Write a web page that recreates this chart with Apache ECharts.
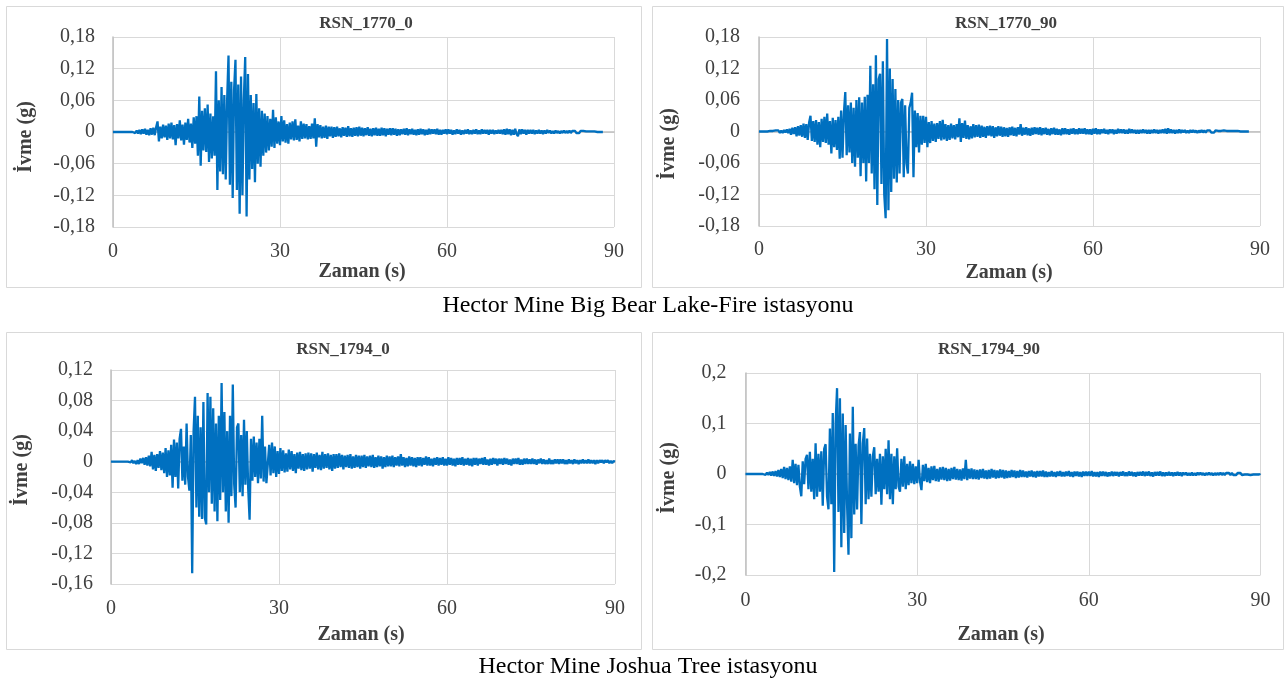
<!DOCTYPE html>
<html>
<head>
<meta charset="utf-8">
<script src="https://cdn.jsdelivr.net/npm/echarts@6/dist/echarts.min.js"></script>
<style>
  html, body { margin: 0; padding: 0; background: #fff; }
  #chart { width: 1287px; height: 686px; }
</style>
</head>
<body>
<div id="chart"></div>
<script>
// Acceleration records, sampled every DT seconds, values in 0.001 g
const DT = 0.25;

const titles = ['RSN_1770_0', 'RSN_1770_90', 'RSN_1794_0', 'RSN_1794_90'];
const captions = ['Hector Mine Big Bear Lake-Fire istasyonu', 'Hector Mine Joshua Tree istasyonu'];
const xTitle = 'Zaman (s)';
const yTitle = 'İvme (g)';

// Axis ticks
const xTicks = [0, 30, 60, 90];
const yTicks1770 = [-0.18, -0.12, -0.06, 0, 0.06, 0.12, 0.18];
const yTicks1794_0 = [-0.16, -0.12, -0.08, -0.04, 0, 0.04, 0.08, 0.12];
const yTicks1794_90 = [-0.2, -0.1, 0, 0.1, 0.2];

// Big Bear Lake-Fire, 0° component (0 – 88 s)
const rsn1770_0 = [
  0,0,0,0,0,0,0,0,0,0,0,0,0,0,0,2,-2,3,-3,4,
  -4,5,-3,6,-5,4,-6,7,-5,8,-6,9,20,-18,10,-12,14,-10,12,-15,
  16,-12,18,-14,13,-25,15,-12,22,-16,14,-24,18,-15,25,-20,16,-30,28,-22,
  30,-45,67,-64,40,-35,45,-38,52,-57,35,-50,30,-45,115,-110,60,-75,85,-80,
  70,-90,60,145,-100,95,-125,80,137,-110,90,-155,105,-120,60,142,-160,110,-90,70,
  -70,55,-95,72,-60,45,-66,40,-45,35,-39,30,-35,25,-28,42,-30,28,-22,20,
  -25,30,-18,22,-20,15,-22,18,-14,20,-16,24,-15,12,-18,20,-13,16,-12,15,
  -14,11,-13,16,-12,26,-28,15,-10,13,-12,10,-11,12,-13,10,-8,10,-11,9,
  -9,10,-8,7,-10,9,-7,8,-9,11,-8,7,-9,8,-7,9,-8,10,-7,8,
  -8,7,-6,9,-7,6,-8,7,-6,8,-7,6,-7,8,-6,7,-8,6,-5,7,
  -6,7,-5,6,-7,5,-6,5,-4,6,-5,7,-6,5,-4,6,-5,4,-6,5,
  -5,6,-4,5,-6,4,-5,6,-4,5,-3,5,-4,6,-5,4,-5,4,-3,5,
  -4,5,-3,4,-5,3,-4,5,-3,4,-5,3,-4,4,-3,5,-4,3,-4,4,
  -3,5,-4,3,-4,5,-3,4,-3,4,-5,4,-3,4,-4,3,-3,4,-3,4,
  -4,5,-5,6,-4,5,-6,4,-5,6,-4,-8,5,-4,5,-3,4,-5,4,-3,
  4,-3,4,-4,3,-3,4,-3,3,-4,3,-3,4,-2,3,-3,2,-3,3,-2,
  2,-3,2,-2,3,-2,2,-2,3,-2,2,-1,2,-2,1,-2,2,-1,2,-1,
  1,-1,1,-1,1,-1,1,-1,0,0,0,0,0
];

// Big Bear Lake-Fire, 90° component (0 – 88 s)
const rsn1770_90 = [
  0,0,0,0,0,0,0,0,1,-1,1,-2,2,-1,2,-3,2,-3,3,-2,
  4,-3,5,-6,7,-5,8,-9,10,-8,12,-10,15,-12,14,-16,17,30,-18,20,
  -20,22,-25,18,-30,24,-20,28,-22,34,-25,20,-42,26,-30,22,-35,28,-52,40,
  -50,35,75,-45,50,-40,55,-60,45,-67,60,-50,65,-85,55,-60,66,-95,70,-60,
  125,-80,90,-110,145,-140,100,110,-100,134,-120,-165,176,-150,120,-115,100,-90,81,-97,
  60,-80,55,62,-87,50,-60,-80,45,55,74,-87,40,-30,35,-40,30,-25,30,-22,
  28,-30,18,-22,20,-18,15,-20,16,-14,20,-17,22,-15,14,-18,12,-16,15,-13,
  12,-15,14,-11,25,-20,16,-12,21,-14,12,-15,10,-13,14,-11,12,-10,13,-12,
  11,-10,9,-12,10,-8,11,-9,10,-12,8,-9,10,-8,9,-10,8,-9,7,-10,
  8,-7,9,-8,7,-9,8,-6,14,-8,7,-6,8,-7,6,-8,7,-6,8,-5,
  7,-6,8,-7,6,-5,7,-6,5,-7,6,-5,7,-6,5,-6,4,-7,6,-5,
  6,-5,4,-6,5,-4,6,-5,4,-5,6,-4,5,-4,6,-5,4,-5,4,-6,
  5,-4,6,-5,4,-5,4,-3,5,-4,3,-5,4,-3,4,-5,3,-4,5,-3,
  4,-3,4,-4,3,-4,5,-3,4,-3,3,-4,3,-4,3,-3,4,-3,3,-4,
  3,-4,3,-3,4,-3,3,-4,3,-3,4,-3,5,-4,6,-3,4,-3,3,-4,
  3,-3,4,-3,3,-2,3,-3,2,-3,3,-2,3,-2,2,-3,2,-2,3,-2,
  2,-2,2,-1,2,-2,1,-2,2,-1,1,-2,1,-1,2,-1,1,-1,1,-1,
  1,-1,1,-1,1,-1,0,1,0,0,0,0,0
];

// Joshua Tree, 0° component (0 – 90 s)
const rsn1794_0 = [
  0,0,0,0,0,0,0,0,0,0,0,0,0,1,-1,2,-2,1,-3,2,
  -3,4,-2,5,-4,6,-5,8,-6,13,-10,9,-12,10,-8,14,-11,12,-15,18,
  -20,15,-18,22,-34,29,-20,25,-35,30,43,-25,20,-30,50,-20,-38,35,-146,40,
  85,-60,60,-72,45,-75,78,-73,-82,90,-40,85,-55,70,-65,50,-78,60,-50,103,
  -40,65,-65,40,-80,60,-45,101,-30,-60,45,50,-40,35,-45,55,-30,40,-35,-76,
  30,-25,33,-20,25,-28,30,-22,60,-26,20,-28,-30,22,-18,25,-15,20,-20,14,
  -16,18,-12,15,-14,11,-13,16,-10,14,-12,10,-15,12,-9,13,-11,10,-12,11,
  -10,12,-9,11,-13,10,-8,12,-10,9,-11,13,-9,10,-8,11,-10,9,-12,10,
  -9,10,-8,11,-7,9,-10,8,-7,9,-8,10,-9,7,-8,9,-7,8,-9,8,
  -7,9,-8,7,-6,8,-7,9,-8,6,-7,8,-6,7,-9,6,-7,8,-6,7,
  -6,8,-7,6,-5,7,-6,10,-5,6,-7,5,-6,7,-5,6,-6,5,-7,6,
  -5,6,-6,5,-4,7,-5,6,-5,4,-6,5,-4,6,-5,5,-4,6,-5,4,
  -5,6,-4,5,-5,4,-6,5,-4,5,-4,6,-5,4,-4,5,-5,4,-6,5,
  -4,5,-5,4,-3,5,-4,6,-4,3,-5,4,-4,5,-3,4,-5,4,-3,4,
  -4,5,-3,4,-4,3,-5,4,-3,4,-3,5,-4,3,-4,4,-3,4,-3,3,
  -3,4,-3,3,-4,3,-2,4,-3,3,-3,2,-3,4,-3,2,-3,3,-2,3,
  -3,3,-2,3,-3,2,-3,3,-2,2,-3,3,-2,2,-3,2,-2,3,-2,2,
  -2,3,-2,2,-2,2,-3,2,-2,2,-1,2,-2,2,-1,2,-2,1,-2,1,
  0
];

// Joshua Tree, 90° component (0 – 90 s)
const rsn1794_90 = [
  0,0,0,0,0,0,0,0,0,0,0,0,0,2,-2,3,-2,4,-3,5,
  -4,6,-5,8,-6,10,-8,14,-10,12,-12,15,-15,28,-18,20,-22,18,-25,-44,
  25,-20,30,38,-30,44,-35,30,-50,61,-45,40,-35,45,-63,50,59,-45,-70,90,
  -60,121,-194,100,170,-75,150,-145,120,-117,97,-60,-160,80,-127,133,-80,60,-70,55,
  83,-99,60,91,-60,70,-50,40,-45,35,53,-40,30,-35,40,-61,35,-30,50,-40,
  67,-50,40,-60,35,-30,51,-25,-35,30,-25,35,-30,20,-22,25,-18,20,-20,15,
  -18,28,-15,-32,18,-14,20,-16,12,-18,15,-12,16,-14,10,-15,13,-11,14,-12,
  12,-14,10,-13,12,-10,14,-11,10,-12,9,-13,11,-10,28,-12,10,-9,11,-10,
  9,-10,8,-11,9,-8,10,-9,7,-10,8,-9,10,-7,8,-9,7,-8,9,-7,
  8,-9,7,-8,6,-7,8,-6,7,-8,6,-7,8,-6,7,-6,5,-7,6,-5,
  7,-6,5,-7,6,-5,6,-5,7,-6,5,-6,4,-5,6,-5,4,-6,5,-4,
  6,-5,4,-5,5,-4,6,-5,4,-6,5,-4,5,-5,4,-6,5,-4,5,-4,
  5,-4,6,-5,4,-5,4,-6,5,-4,5,-4,4,-5,3,-4,5,-4,4,-3,
  4,-5,4,-3,5,-4,3,-4,5,-3,4,-4,3,-5,4,-3,4,-3,5,-4,
  4,-3,5,-4,3,-5,4,-3,4,-3,5,-4,3,-4,3,-3,4,-3,3,-4,
  3,-3,4,-3,3,-4,3,-2,3,-3,2,-3,3,-3,2,-3,3,-2,3,-2,
  2,-3,2,-2,3,-2,2,-3,2,-2,2,-2,3,-2,2,-2,2,-1,2,-2,
  2,-2,1,-2,2,-1,2,-2,1,-1,2,-1,1,-2,1,-1,1,-1,1,-1,
  0
];

const records = [rsn1770_0, rsn1770_90, rsn1794_0, rsn1794_90];
const yTickSets = [yTicks1770, yTicks1770, yTicks1794_0, yTicks1794_90];
const yDecimals = [2, 2, 2, 1];

// Panel layout (pixels)
const panels = [
  { grid: { left: 113, top: 37, width: 501, height: 190 }, yMargin: 18, xMargin: 15,
    box: [6, 6, 635, 281], title: [366, 24], xName: [362, 272], yName: [26, 137] },
  { grid: { left: 759, top: 37, width: 501, height: 189 }, yMargin: 19, xMargin: 14,
    box: [652, 6, 631, 281], title: [1006, 24], xName: [1009, 273], yName: [669, 144] },
  { grid: { left: 111, top: 370, width: 504, height: 214 }, yMargin: 18, xMargin: 15,
    box: [6, 332, 635, 317], title: [343, 350], xName: [361, 635], yName: [22, 470] },
  { grid: { left: 745.5, top: 373, width: 515, height: 202 }, yMargin: 19, xMargin: 16,
    box: [652, 332, 631, 317], title: [989, 350], xName: [1001, 635], yName: [669, 478] }
];

const FONT = '"Liberation Serif", "Times New Roman", serif';
const TEXT = '#404040';
const GRID_LINE = '#d9d9d9';
const AXIS_LINE = '#bfbfbf';
const LINE_BLUE = '#0070c0';

function fmtTick(dec) {
  return function (v) {
    if (Math.abs(v) < 1e-9) return '0';
    return v.toFixed(dec).replace('.', ',');
  };
}

const grid = [], xAxis = [], yAxis = [], series = [], graphic = [];

panels.forEach(function (p, i) {
  grid.push(Object.assign({ containLabel: false }, p.grid));

  // labelled time axis along the bottom edge
  xAxis.push({
    gridIndex: i, type: 'value',
    min: xTicks[0], max: xTicks[xTicks.length - 1], interval: xTicks[1] - xTicks[0],
    axisLine: { show: false, onZero: false },
    axisTick: { show: false },
    axisLabel: { margin: p.xMargin, fontFamily: FONT, fontSize: 20, color: TEXT },
    splitLine: { show: true, lineStyle: { color: GRID_LINE, width: 1 } }
  });
  // horizontal axis line drawn through zero acceleration
  xAxis.push({
    gridIndex: i, type: 'value', position: 'bottom',
    min: xTicks[0], max: xTicks[xTicks.length - 1],
    axisLine: { show: true, onZero: true, lineStyle: { color: AXIS_LINE, width: 1.5 } },
    axisTick: { show: false },
    axisLabel: { show: false },
    splitLine: { show: false }
  });

  const yt = yTickSets[i];
  const step = Math.round((yt[1] - yt[0]) * 1000) / 1000;
  yAxis.push({
    gridIndex: i, type: 'value',
    min: yt[0], max: yt[yt.length - 1], interval: step,
    axisLine: { show: true, onZero: false, lineStyle: { color: AXIS_LINE, width: 1.5 } },
    axisTick: { show: false },
    axisLabel: { margin: p.yMargin, fontFamily: FONT, fontSize: 20, color: TEXT, formatter: fmtTick(yDecimals[i]) },
    splitLine: { show: true, lineStyle: { color: GRID_LINE, width: 1 } }
  });

  series.push({
    type: 'line',
    name: titles[i],
    xAxisIndex: 2 * i,
    yAxisIndex: i,
    data: records[i].map(function (v, k) { return [k * DT, v / 1000]; }),
    showSymbol: false,
    symbol: 'none',
    silent: true,
    z: 3,
    lineStyle: { color: LINE_BLUE, width: 2.3, join: 'bevel' },
    itemStyle: { color: LINE_BLUE }
  });

  // panel frame
  graphic.push({
    type: 'rect', silent: true, z: -10,
    shape: { x: p.box[0] + 0.5, y: p.box[1] + 0.5, width: p.box[2], height: p.box[3] },
    style: { fill: 'none', stroke: '#d9d9d9', lineWidth: 1 }
  });
  // panel title
  graphic.push({
    type: 'text', silent: true, x: p.title[0], y: p.title[1],
    style: { text: titles[i], align: 'center', verticalAlign: 'middle',
      font: 'bold 17px ' + FONT, fill: TEXT }
  });
  // time axis title
  graphic.push({
    type: 'text', silent: true, x: p.xName[0], y: p.xName[1],
    style: { text: xTitle, align: 'center', verticalAlign: 'middle',
      font: 'bold 20px ' + FONT, fill: TEXT }
  });
  // acceleration axis title
  graphic.push({
    type: 'text', silent: true, x: p.yName[0], y: p.yName[1], rotation: Math.PI / 2,
    style: { text: yTitle, align: 'center', verticalAlign: 'middle',
      font: 'bold 20px ' + FONT, fill: TEXT }
  });
});

// station captions under each row
[[648, 306], [648, 667]].forEach(function (pos, r) {
  graphic.push({
    type: 'text', silent: true, x: pos[0], y: pos[1],
    style: { text: captions[r], align: 'center', verticalAlign: 'middle',
      font: '24px ' + FONT, fill: '#000' }
  });
});

const chart = echarts.init(document.getElementById('chart'), null, { renderer: 'canvas' });
chart.setOption({
  backgroundColor: '#ffffff',
  animation: false,
  grid: grid,
  xAxis: xAxis,
  yAxis: yAxis,
  series: series,
  graphic: graphic
});
</script>
</body>
</html>
